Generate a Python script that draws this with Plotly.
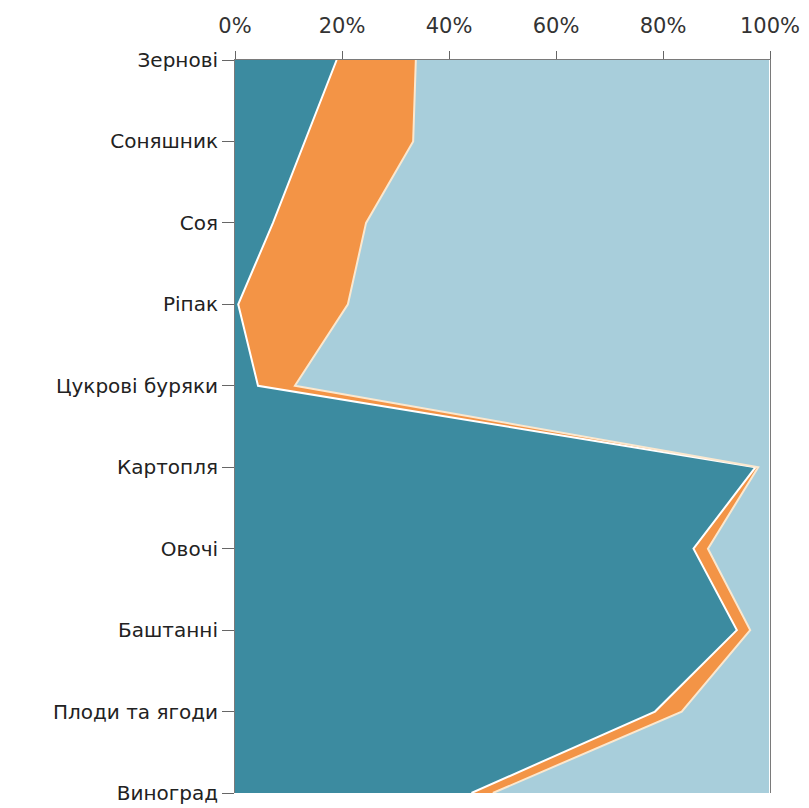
import plotly.graph_objects as go

categories = ["Зернові", "Соняшник", "Соя", "Ріпак", "Цукрові буряки",
              "Картопля", "Овочі", "Баштанні", "Плоди та ягоди", "Виноград"]
series_a = [19.0, 13.1, 7.1, 0.6, 4.3, 97.3, 85.7, 93.8, 78.5, 44.2]
series_b = [14.8, 20.2, 17.4, 20.5, 6.9, 0.5, 2.7, 2.5, 5.0, 4.0]
series_c = [66.2, 66.7, 75.5, 78.9, 88.8, 2.2, 11.6, 3.7, 16.5, 51.8]
x_ticks = [0, 20, 40, 60, 80, 100]
x_tick_labels = ["0%", "20%", "40%", "60%", "80%", "100%"]

colors = ["#3c8ba0", "#f39446", "#a8cedb"]
line_colors = ["#ffffff", "#fbe8cf", "#ffffff"]

fig = go.Figure()
for vals, col, lc, name in zip([series_a, series_b, series_c], colors, line_colors,
                               ["A", "B", "C"]):
    fig.add_trace(go.Scatter(
        x=vals, y=categories, mode="lines", name=name,
        stackgroup="one", orientation="h",
        fillcolor=col, line=dict(color=lc, width=2),
        hoverinfo="skip",
    ))

fig.update_layout(
    width=809, height=808,
    margin=dict(l=227, r=47, t=52, b=23),
    paper_bgcolor="white", plot_bgcolor="white",
    showlegend=False,
    font=dict(family="DejaVu Sans", size=20, color="#333333"),
)
fig.update_xaxes(
    side="top", range=[0, 100], tickvals=x_ticks, ticktext=x_tick_labels,
    ticks="outside", ticklen=8, tickcolor="#666666",
    showgrid=False, zeroline=False,
    showline=True, linecolor="#7a7a7a", linewidth=1,
    tickfont=dict(size=21, color="#333333"),
    ticklabelstandoff=10, automargin=False,
)
fig.update_yaxes(
    type="category", categoryorder="array", categoryarray=categories,
    range=[len(categories) - 1, 0],
    ticks="outside", ticklen=12, tickcolor="#666666",
    showgrid=False, zeroline=False,
    showline=True, linecolor="#7a7a7a", linewidth=1, mirror=True,
    tickfont=dict(size=20, color="#222222"),
    automargin=False,
)

fig.write_html("out.html")
